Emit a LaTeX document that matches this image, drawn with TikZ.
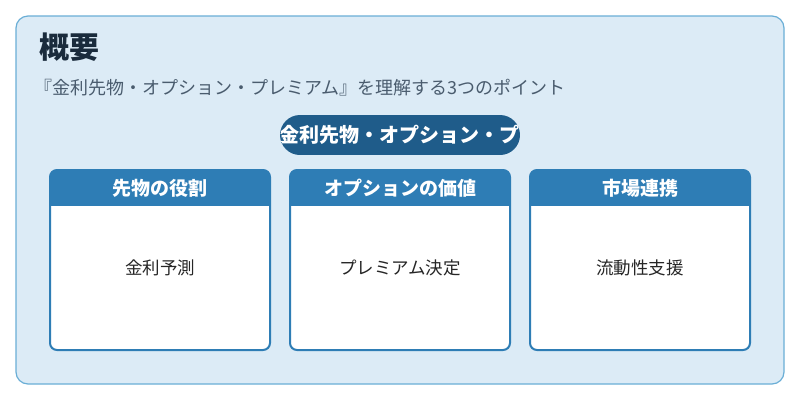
\documentclass[tikz,border=0pt]{standalone}
\usepackage{fontspec}
\setmainfont{Noto Sans CJK JP}
\definecolor{bgblue}{HTML}{DCEBF6}
\definecolor{edgeblue}{HTML}{6AAED6}
\definecolor{headblue}{HTML}{2E7DB5}
\definecolor{pillblue}{HTML}{1F5C8A}
\definecolor{titlecol}{HTML}{1A2B3C}
\definecolor{subcol}{HTML}{4A5C6E}
\tikzset{
  cardbody/.style={draw=headblue, line width=2pt, fill=white, rounded corners=7pt},
  cardhead/.style={fill=headblue, text=white, font=\fontsize{19}{22}\selectfont\bfseries},
  cardtext/.style={text=black!85, font=\fontsize{17.5}{20}\selectfont}
}
\begin{document}
\begin{tikzpicture}[x=1pt,y=-1pt]
\useasboundingbox (0,0) rectangle (800,400);
\fill[white] (0,0) rectangle (800,400);
\draw[edgeblue, fill=bgblue, line width=1.2pt, rounded corners=12pt] (16,16) rectangle (784,384);

\node[anchor=west, text=titlecol, font=\fontsize{30}{34}\selectfont\bfseries] (title) at (36,47) {概要};
\node[anchor=west, text=subcol, font=\fontsize{18}{21}\selectfont] (sub) at (31,88) {『金利先物・オプション・プレミアム』を理解する3つのポイント};

\begin{scope}
\clip[rounded corners=20pt] (280,115) rectangle (520,155);
\fill[pillblue] (280,115) rectangle (520,155);
\node[anchor=west, text=white, font=\fontsize{20}{23}\selectfont\bfseries] (pill) at (276,135) {金利先物・オプション・プレミアム};
\end{scope}

\foreach \x/\head/\body/\name in {50/先物の役割/金利予測/fut, 290/オプションの価値/プレミアム決定/opt, 530/市場連携/流動性支援/mkt}{
  \draw[cardbody] (\x,170) rectangle ++(220,180);
  \begin{scope}
    \clip[rounded corners=7pt] (\x,170) rectangle ++(220,180);
    \fill[headblue] (\x,170) rectangle ++(220,36);
  \end{scope}
  \node[cardhead] (\name head) at (\x+110,188) {\head};
  \node[cardtext] (\name body) at (\x+110,268) {\body};
}
\end{tikzpicture}
\end{document}
